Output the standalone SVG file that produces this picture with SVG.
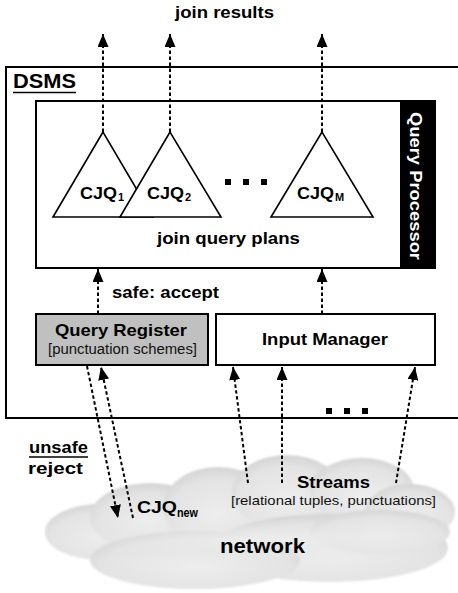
<svg xmlns="http://www.w3.org/2000/svg" width="458" height="593" viewBox="0 0 458 593">
<style>
.b{font-family:"Liberation Sans",Arial,sans-serif;font-weight:bold;fill:#000}
.n{font-family:"Liberation Sans",Arial,sans-serif;fill:#111}
.box{fill:#fff;stroke:#000;stroke-width:2}
.tri{fill:#fff;stroke:#000;stroke-width:1.6;stroke-linejoin:miter}
.dash{fill:none;stroke:#000;stroke-width:2;stroke-dasharray:3.5,2.5}
.lobe{fill:url(#cg)}
</style>
<defs>
<marker id="ah" viewBox="0 0 13 11" refX="13" refY="5.5" markerWidth="13" markerHeight="11" markerUnits="userSpaceOnUse" orient="auto">
<path d="M0,0 L13,5.5 L0,11 z" fill="#000"/>
</marker>
<radialGradient id="cg" cx="0.5" cy="0.6" r="0.6">
<stop offset="0" stop-color="#ededed"/>
<stop offset="0.75" stop-color="#e3e3e3"/>
<stop offset="1" stop-color="#d4d4d4"/>
</radialGradient>
<radialGradient id="cg2" cx="0.5" cy="0.5" r="0.5">
<stop offset="0" stop-color="#eeeeee"/>
<stop offset="1" stop-color="#e4e4e4" stop-opacity="0"/>
</radialGradient>
<filter id="soft" x="-5%" y="-5%" width="110%" height="110%">
<feGaussianBlur stdDeviation="1.2"/>
</filter>
</defs>

<g id="network">
<g filter="url(#soft)">
<ellipse class="lobe" cx="100" cy="532" rx="55" ry="28"/>
<ellipse class="lobe" cx="150" cy="517" rx="60" ry="34"/>
<ellipse class="lobe" cx="218" cy="507" rx="55" ry="40"/>
<ellipse class="lobe" cx="287" cy="492" rx="55" ry="37"/>
<ellipse class="lobe" cx="362" cy="490" rx="52" ry="32"/>
<ellipse class="lobe" cx="410" cy="512" rx="45" ry="28"/>
<ellipse class="lobe" cx="330" cy="548" rx="118" ry="34"/>
<ellipse class="lobe" cx="195" cy="560" rx="105" ry="29"/>
<ellipse class="lobe" cx="380" cy="532" rx="70" ry="22"/>
<ellipse cx="260" cy="540" rx="200" ry="22" fill="url(#cg2)"/>
</g>
<text class="b" x="220" y="553" font-size="21" textLength="85" lengthAdjust="spacingAndGlyphs">network</text>
</g>

<g id="dsms">
<rect class="box" x="6" y="67" width="470" height="351"/>
<text class="b" x="13" y="88" font-size="20" textLength="63" lengthAdjust="spacingAndGlyphs">DSMS</text>
<line x1="13" y1="92.5" x2="76" y2="92.5" stroke="#000" stroke-width="1.6"/>
<rect x="326" y="408" width="6" height="6" fill="#000"/>
<rect x="344" y="408" width="6" height="6" fill="#000"/>
<rect x="362" y="408" width="6" height="6" fill="#000"/>
</g>

<g id="query-processor">
<rect class="box" x="36" y="101" width="399" height="167"/>
<rect x="400" y="101" width="35" height="167" fill="#000"/>
<text class="b" x="0" y="0" font-size="16.5" style="fill:#fff" text-anchor="middle" transform="translate(410,186) rotate(90)" textLength="148" lengthAdjust="spacingAndGlyphs">Query Processor</text>
<text class="b" x="157" y="244" font-size="17" textLength="143" lengthAdjust="spacingAndGlyphs">join query plans</text>
<rect x="225" y="179" width="6" height="6" fill="#000"/>
<rect x="243" y="179" width="6" height="6" fill="#000"/>
<rect x="261" y="179" width="6" height="6" fill="#000"/>
</g>

<g id="cjq1">
<polygon class="tri" points="103,132 53,217 153,217"/>
<text class="b" x="80" y="199" font-size="17" textLength="37" lengthAdjust="spacingAndGlyphs">CJQ</text>
<text class="b" x="118" y="201" font-size="11">1</text>
</g>
<g id="cjq2">
<polygon class="tri" points="170,132 120,217 221,217"/>
<text class="b" x="147" y="199" font-size="17" textLength="37" lengthAdjust="spacingAndGlyphs">CJQ</text>
<text class="b" x="185" y="201" font-size="11">2</text>
</g>
<g id="cjqm">
<polygon class="tri" points="322,132 271,217 373,217"/>
<text class="b" x="297" y="199" font-size="17" textLength="37" lengthAdjust="spacingAndGlyphs">CJQ</text>
<text class="b" x="335" y="201" font-size="11">M</text>
</g>

<g id="query-register">
<rect x="36" y="314" width="172" height="51" fill="#c0c0c0" stroke="#000" stroke-width="2"/>
<text class="b" x="55" y="336" font-size="17" textLength="132" lengthAdjust="spacingAndGlyphs">Query Register</text>
<text class="n" x="48" y="354" font-size="14" textLength="149" lengthAdjust="spacingAndGlyphs">[punctuation schemes]</text>
</g>

<g id="input-manager">
<rect class="box" x="216" y="314" width="219" height="51"/>
<text class="b" x="262" y="345" font-size="17" textLength="126" lengthAdjust="spacingAndGlyphs">Input Manager</text>
</g>

<g id="connectors">
<line class="dash" x1="103" y1="132" x2="103" y2="34" marker-end="url(#ah)"/>
<line class="dash" x1="170" y1="132" x2="170" y2="34" marker-end="url(#ah)"/>
<line class="dash" x1="322" y1="132" x2="322" y2="34" marker-end="url(#ah)"/>
<line class="dash" x1="98" y1="314" x2="98" y2="269" marker-end="url(#ah)"/>
<line class="dash" x1="322" y1="314" x2="322" y2="269" marker-end="url(#ah)"/>
<line class="dash" x1="87" y1="366" x2="118" y2="518" marker-end="url(#ah)"/>
<line class="dash" x1="133" y1="518" x2="101" y2="367" marker-end="url(#ah)"/>
<line class="dash" x1="248" y1="483" x2="233" y2="367" marker-end="url(#ah)"/>
<line class="dash" x1="282" y1="483" x2="282" y2="367" marker-end="url(#ah)"/>
<line class="dash" x1="396" y1="483" x2="415" y2="367" marker-end="url(#ah)"/>
</g>

<g id="labels">
<text class="b" x="175" y="18" font-size="17" textLength="99" lengthAdjust="spacingAndGlyphs">join results</text>
<text class="b" x="112" y="298" font-size="17" textLength="107" lengthAdjust="spacingAndGlyphs">safe: accept</text>
<text class="b" x="29" y="453" font-size="17" textLength="59" lengthAdjust="spacingAndGlyphs">unsafe</text>
<line x1="29" y1="457" x2="88" y2="457" stroke="#000" stroke-width="1.5"/>
<text class="b" x="28" y="474" font-size="17" textLength="55" lengthAdjust="spacingAndGlyphs">reject</text>
<text class="b" x="137" y="513" font-size="17" textLength="40" lengthAdjust="spacingAndGlyphs">CJQ</text>
<text class="b" x="177" y="517" font-size="12" textLength="21" lengthAdjust="spacingAndGlyphs">new</text>
<text class="b" x="297" y="488" font-size="17" textLength="73" lengthAdjust="spacingAndGlyphs">Streams</text>
<text class="n" x="231" y="505" font-size="13.5" textLength="205" lengthAdjust="spacingAndGlyphs">[relational tuples, punctuations]</text>
</g>
</svg>
